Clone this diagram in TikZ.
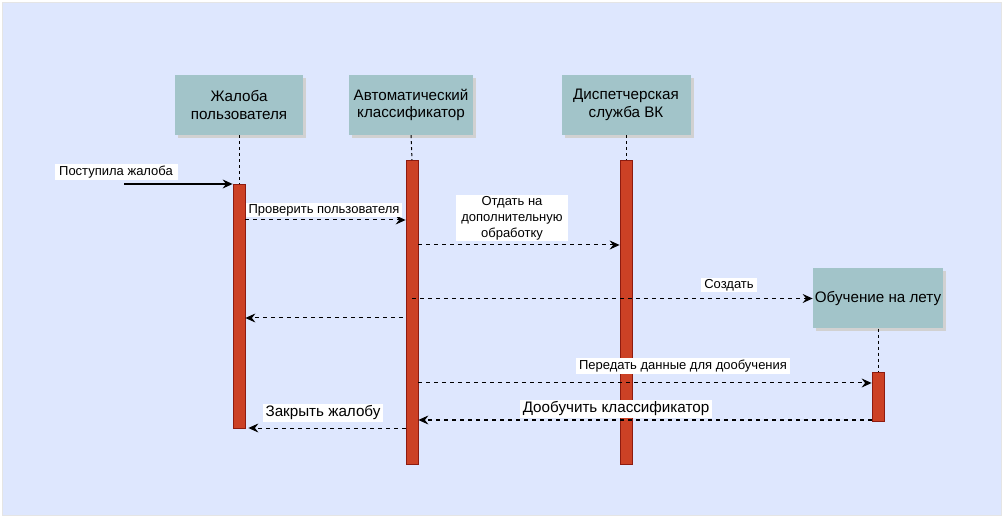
\documentclass[tikz,border=0pt]{standalone}
\usepackage{fontspec}
\setmainfont{Liberation Sans}
\usetikzlibrary{arrows.meta,positioning,shadows,calc}

\definecolor{bgblue}{HTML}{DEE7FE}
\definecolor{headfill}{HTML}{A2C4C9}
\definecolor{barfill}{HTML}{CC4125}
\definecolor{barline}{HTML}{8E1B0F}

\begin{document}
\begin{tikzpicture}[
  x=1pt, y=-1pt,
  >={Stealth[length=10pt, width=9pt, inset=3.5pt]},
  header/.style={rectangle, fill=headfill, align=center,
                 minimum width=128pt, minimum height=60pt, inner sep=2pt,
                 font=\fontsize{15.2}{17.5}\selectfont,
                 general shadow={fill=black!18, shadow xshift=3pt, shadow yshift=-3pt}},
  bar/.style={rectangle, draw=barline, fill=barfill, line width=0.8pt,
              minimum width=12pt, inner sep=0pt, anchor=north},
  lifeline/.style={draw, line width=1pt, dash pattern=on 3pt off 3pt},
  msg/.style={->, line width=1pt, dash pattern=on 4pt off 4pt},
  lbl/.style={fill=white, align=center, inner xsep=3pt, inner ysep=1.5pt,
              font=\fontsize{13}{16}\selectfont},
  biglbl/.style={lbl, font=\fontsize{15.2}{17.5}\selectfont}
]
\useasboundingbox (0,0) rectangle (1004,518);
\fill[white] (0,0) rectangle (1004,518);
\draw[fill=bgblue, draw=black!10] (2,2) rectangle (1001,515);

% participants
\node[header] (complaint)  at (239,105)   {Жалоба\\пользователя};
\node[header, minimum width=124pt] (classifier) at (411,105) {Автоматический\\классификатор};
\node[header, minimum width=129pt] (dispatch)   at (626,105) {Диспетчерская\\служба ВК};
\node[header] (online)     at (878,298.5) {Обучение на лету};

% activation bars
\node[bar, minimum height=244pt] (bar1) at (239,184) {};
\node[bar, minimum height=304pt] (bar2) at (412,160) {};
\node[bar, minimum height=304pt] (bar3) at (626,160) {};
\node[bar, minimum height=49pt]  (bar4) at (878,372) {};

\draw[lifeline] (complaint.south)  -- (bar1.north);
\draw[lifeline] (classifier.south |- complaint.south) -- (bar2.north);
\draw[lifeline] (dispatch.south)   -- (bar3.north);
\draw[lifeline] (online.south)     -- (bar4.north);

% message levels
\coordinate (src) at (124,184);
\coordinate (m2) at (0,220);
\coordinate (m3) at (0,245);
\coordinate (m4) at (0,298.5);
\coordinate (m5) at (0,318);
\coordinate (m6) at (0,383);
\coordinate (m7) at (0,420);
\coordinate (m8) at (0,428);

% messages
\draw[->, line width=1.2pt] (src) -- (bar1.north west);
\draw[msg] (bar1.east |- m2) -- (bar2.west |- m2);
\draw[msg] (bar2.east |- m3) -- (bar3.west |- m3);
\draw[msg] (bar2 |- m4) -- (online.west);
\draw[msg] ($(bar2.west |- m5)+(-3,0)$) -- (bar1.east |- m5);
\draw[msg] (bar2.east |- m6) -- (bar4.west |- m6);
\draw[msg] (bar4.west |- m7) -- (bar2.east |- m7);
\draw[msg] (bar2.west |- m8) -- ($(bar1.east |- m8)+(3,0)$);

% labels
\node[lbl, minimum width=123pt] (incoming) at (116,172) {Поступила жалоба};
\node[lbl] (check)    at (324,210) {Проверить пользователя};
\node[lbl, minimum width=112pt] (forward) at (512,218) {Отдать на\\дополнительную\\обработку};
\node[lbl] (create)   at (729,285) {Создать};
\node[lbl] (transfer) at (683,366) {Передать данные для дообучения};
\node[biglbl] (retrain) at (616,409) {Дообучить классификатор};
\node[biglbl] (close)   at (323,413) {Закрыть жалобу};
\end{tikzpicture}
\end{document}
